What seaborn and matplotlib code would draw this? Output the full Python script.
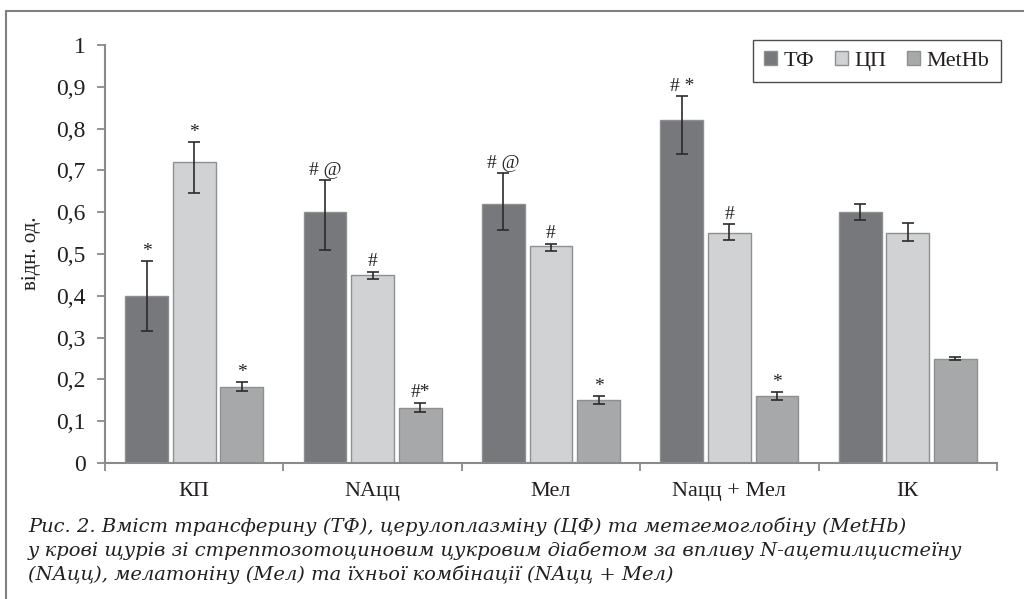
import numpy as np
import pandas as pd
import matplotlib
matplotlib.use("Agg")
import matplotlib.pyplot as plt
from matplotlib.lines import Line2D
import seaborn as sns

# Data
groups = ["КП", "NAцц", "Мел", "Naцц + Мел", "ІК"]
series = ["ТФ", "ЦП", "MetHb"]
tf = [0.40, 0.60, 0.62, 0.82, 0.60]
cp = [0.72, 0.45, 0.518, 0.55, 0.55]
methb = [0.181, 0.131, 0.151, 0.160, 0.250]
# error bar ends (upper / lower)
tf_hi = [0.483, 0.677, 0.694, 0.878, 0.619]
tf_lo = [0.316, 0.510, 0.557, 0.740, 0.581]
cp_hi = [0.768, 0.458, 0.525, 0.571, 0.575]
cp_lo = [0.646, 0.440, 0.507, 0.533, 0.530]
methb_hi = [0.193, 0.144, 0.160, 0.170, 0.254]
methb_lo = [0.172, 0.122, 0.142, 0.151, 0.247]
# significance marks
tf_marks = ["*", "# @", "# @", "# *", ""]
cp_marks = ["*", "#", "#", "#", ""]
methb_marks = ["*", "#*", "*", "*", ""]

yticks = [0, 0.1, 0.2, 0.3, 0.4, 0.5, 0.6, 0.7, 0.8, 0.9, 1]
ytick_labels = ["0", "0,1", "0,2", "0,3", "0,4", "0,5", "0,6", "0,7", "0,8", "0,9", "1"]
ylabel = "відн. од."
caption = ["Рис. 2. Вміст трансферину (ТФ), церулоплазміну (ЦФ) та метгемоглобіну (MetHb)",
           "у крові щурів зі стрептозотоциновим цукровим діабетом за впливу N-ацетилцистеїну",
           "(NAцц), мелатоніну (Мел) та їхньої комбінації (NAцц + Мел)"]

colors = ["#77787b", "#d1d2d4", "#a7a8aa"]
text_col = "#231f20"

sns.set_theme(style="white")
plt.rcParams["font.family"] = ["Liberation Serif", "DejaVu Serif"]

df = pd.DataFrame({
    "group": groups * 3,
    "series": [s for s in series for _ in groups],
    "value": tf + cp + methb,
})

fig = plt.figure(figsize=(10.24, 5.99), dpi=100)
ax = fig.add_axes([0.1025, 0.2270, 0.8711, 0.6979])

sns.barplot(data=df, x="group", y="value", hue="series", order=groups,
            hue_order=series, palette=colors, width=0.8, gap=0.1,
            edgecolor="#8e8f91", linewidth=1.0, errorbar=None, ax=ax,
            saturation=1)

his = [tf_hi, cp_hi, methb_hi]
los = [tf_lo, cp_lo, methb_lo]
vals = [tf, cp, methb]
marks = [tf_marks, cp_marks, methb_marks]
bar_sets = list(ax.containers)
for i, cont in enumerate(bar_sets):
    xs = [b.get_x() + b.get_width() / 2 for b in cont]
    v = np.array(vals[i])
    err = [v - np.array(los[i]), np.array(his[i]) - v]
    ax.errorbar(xs, v, yerr=err, fmt="none", ecolor="#2b2b2b",
                elinewidth=1.2, capsize=4, capthick=1.2, zorder=5)
    for x, top, m in zip(xs, his[i], marks[i]):
        if m:
            ax.annotate(m, (x, top), xytext=(0, 1), textcoords="offset points",
                        ha="center", va="bottom", fontsize=14, color=text_col)

ax.set_ylim(0, 1)
ax.set_xlim(-0.5, 4.5)
ax.set_yticks(yticks)
ax.set_yticklabels(ytick_labels)
ax.set_xticks(range(len(groups)))
ax.set_xticklabels(groups)
ax.set_xticks(np.arange(-0.5, len(groups), 1.0), minor=True)
ax.tick_params(axis="x", which="major", length=0, pad=14, labelsize=16, labelcolor=text_col)
ax.tick_params(axis="x", which="minor", length=6, width=1.3, color="#8a8a8a", direction="out", bottom=True)
ax.tick_params(axis="y", length=6, width=1.3, color="#8a8a8a", direction="out", left=True,
               pad=8, labelsize=17, labelcolor=text_col)
ax.set_xlabel("")
ax.set_ylabel(ylabel, fontsize=15, color=text_col)
ax.yaxis.set_label_coords(-0.072, 0.502)

sns.despine(ax=ax)
for s in ["left", "bottom"]:
    ax.spines[s].set_color("#8a8a8a")
    ax.spines[s].set_linewidth(1.5)

leg = ax.legend(loc="upper right", bbox_to_anchor=(1.004, 1.012), ncol=3,
                frameon=True, fancybox=False, borderaxespad=0, fontsize=16,
                handlelength=0.6, handleheight=0.6, handletextpad=0.3,
                columnspacing=0.9, borderpad=0.5)
leg.get_frame().set_edgecolor("#231f20")
leg.get_frame().set_linewidth(1.0)
for t in leg.get_texts():
    t.set_color(text_col)

# figure frame (left and top lines)
fig.add_artist(Line2D([6 / 1024, 6 / 1024], [0, 1 - 11 / 599], color="#7f7f7f", lw=1.5))
fig.add_artist(Line2D([6 / 1024, 1], [1 - 11 / 599, 1 - 11 / 599], color="#7f7f7f", lw=1.5))

for k, line in enumerate(caption):
    fig.text(28 / 1024, 1 - (527 + 23.5 * k) / 599, line, ha="left", va="center",
             fontsize=14, style="italic", family=["DejaVu Serif"], color=text_col)

fig.savefig("out.png", dpi=100)
